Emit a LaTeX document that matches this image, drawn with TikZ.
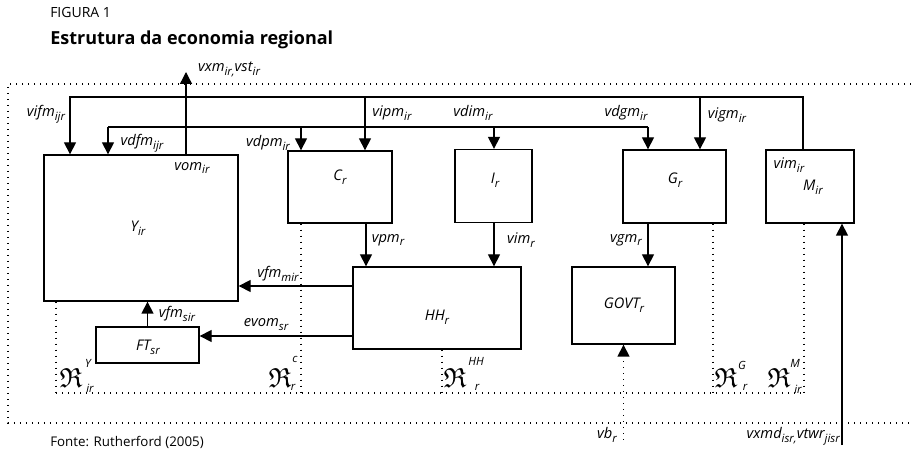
\documentclass[tikz,border=0pt]{standalone}
\usepackage{amsmath,amssymb}
\usepackage{fontspec}
\setmainfont{Open Sans}
\usetikzlibrary{arrows.meta}
\newcommand\lb[2]{\textit{#1}\raisebox{-0.5ex}{\fontsize{8.5}{9}\selectfont\textit{#2}}}
\newcommand\frakR{{\fontsize{20.74}{22}\selectfont$\mathfrak{R}$}}
\tikzset{
  box/.style={draw, line width=1pt, inner sep=0pt},
  ln/.style={line width=1pt},
  arr/.style={line width=1pt, -{Triangle[width=9pt,length=9pt]}},
  dots/.style={line width=1pt, dash pattern=on 0.9pt off 3.6pt},
  lbl/.style={inner sep=0pt, font=\fontsize{11}{13}\selectfont\itshape},
  sml/.style={inner sep=0pt, font=\fontsize{8.5}{9}\selectfont\itshape},
}
\begin{document}
\begin{tikzpicture}[x=0.75pt, y=-0.75pt]
\useasboundingbox (0,0) rectangle (911,452);
% titles
\node[anchor=west, inner sep=0pt, font=\fontsize{10.5}{12}\selectfont] (fig) at (50,13) {FIGURA 1};
\node[anchor=west, inner sep=0pt, font=\fontsize{13.5}{16}\selectfont\bfseries] (tit) at (50,40) {Estrutura da economia regional};
\node[anchor=north west, inner sep=0pt, font=\fontsize{10}{12}\selectfont] (src) at (50,436) {Fonte: Rutherford (2005)};
% outer dotted frame
\coordinate (o1) at (8,84);
\coordinate (o2) at (911,84);
\coordinate (o3) at (8,423);
\coordinate (o4) at (911,423);
\draw[dots] (o2) -- (o1) -- (o3) -- (o4);
% boxes
\node[box, minimum width=145.5pt, minimum height=109.5pt] (Y) at (141,228) {};
\node[box, minimum width=78pt, minimum height=54pt] (C) at (340,187) {};
\node[box, minimum width=57.75pt, minimum height=54.75pt] (I) at (493.5,186) {};
\node[box, minimum width=77.25pt, minimum height=54.75pt] (G) at (674.5,186.5) {};
\node[box, minimum width=66pt, minimum height=54.75pt] (M) at (810,186.5) {};
\node[box, minimum width=126pt, minimum height=61.5pt] (HH) at (437,308) {};
\node[box, minimum width=77.25pt, minimum height=57.75pt] (GOVT) at (623.5,305.5) {};
\node[box, minimum width=77.25pt, minimum height=27pt] (FT) at (147.5,345) {};
% box labels
\node[lbl] (lY) at (138,228) {\lb{Y}{ir}};
\node[lbl] (lC) at (340,177) {\lb{C}{r}};
\node[lbl] (lI) at (495,180) {\lb{I}{r}};
\node[lbl] (lG) at (675,180) {\lb{G}{r}};
\node[lbl] (lM) at (813,187) {\lb{M}{ir}};
\node[lbl] (lHH) at (437,317) {\lb{HH}{r}};
\node[lbl] (lGOVT) at (624,305) {\lb{GOVT}{r}};
\node[lbl] (lFT) at (148,347) {\lb{FT}{sr}};
% top bus
\coordinate (t1) at (70,97);
\coordinate (t2) at (803,97);
\draw[arr] (t2 |- M.north) -- (t2) -- (t1) -- (t1 |- Y.north);
\coordinate (vp) at (365,97);
\draw[arr] (vp) -- (vp |- C.north);
\coordinate (vg) at (700,97);
\draw[arr] (vg) -- (vg |- G.north);
% second bus
\coordinate (b1) at (108,127);
\coordinate (b2) at (301,127);
\coordinate (b3) at (494,127);
\coordinate (b4) at (648,127);
\draw[ln] (b1) -- (b4);
\draw[arr] (b1) -- (b1 |- Y.north);
\draw[arr] (b2) -- (b2 |- C.north);
\draw[arr] (b3) -- (b3 |- I.north);
\draw[arr] (b4) -- (b4 |- G.north);
% exports
\coordinate (vx) at (186,72);
\draw[arr] (vx |- Y.north) -- (vx);
% flows to HH, GOVT
\coordinate (xc) at (366,0);
\draw[arr] (C.south -| xc) -- (HH.north -| xc);
\coordinate (xi) at (494,0);
\draw[arr] (I.south -| xi) -- (HH.north -| xi);
\coordinate (xg) at (648,0);
\draw[arr] (G.south -| xg) -- (GOVT.north -| xg);
% HH to Y and FT
\coordinate (yf) at (0,286);
\draw[arr] (HH.west |- yf) -- (Y.east |- yf);
\coordinate (ye) at (0,336);
\draw[arr] (HH.west |- ye) -- (FT.east |- ye);
\draw[arr] (FT.north) -- (FT.north |- Y.south);
% vb and vxmd
\coordinate (vb) at (623.5,440);
\draw[dots, -{Triangle[width=9pt,length=9pt]}] (vb) -- (GOVT.south);
\coordinate (vm) at (842,445);
\draw[arr] (vm) -- (vm |- M.south);
% inner dotted region
\coordinate (d1) at (56,393);
\coordinate (d2) at (301,393);
\coordinate (d3) at (442,393);
\coordinate (d4) at (713,393);
\coordinate (d5) at (804,393);
\draw[dots] (d1) -- (d5);
\draw[dots] (Y.south -| d1) -- (d1);
\draw[dots] (C.south -| d2) -- (d2);
\draw[dots] (HH.south -| d3) -- (d3);
\draw[dots] (G.south -| d4) -- (d4);
\draw[dots] (M.south -| d5) -- (d5);
% connector labels
\node[lbl] (n1) at (229,69) {\lb{vxm}{ir,}\lb{vst}{ir}};
\node[lbl] (n2) at (46,114) {\lb{vifm}{ijr}};
\node[lbl] (n3) at (142,143) {\lb{vdfm}{ijr}};
\node[lbl] (n4) at (268,143) {\lb{vdpm}{ir}};
\node[lbl] (n5) at (392,113) {\lb{vipm}{ir}};
\node[lbl] (n6) at (473,113) {\lb{vdim}{ir}};
\node[lbl] (n7) at (626,113) {\lb{vdgm}{ir}};
\node[lbl] (n8) at (727,115) {\lb{vigm}{ir}};
\node[lbl] (n9) at (789,165) {\lb{vim}{ir}};
\node[lbl] (n10) at (192,168) {\lb{vom}{ir}};
\node[lbl] (n11) at (388,240) {\lb{vpm}{r}};
\node[lbl] (n12) at (521,240) {\lb{vim}{r}};
\node[lbl] (n13) at (626,240) {\lb{vgm}{r}};
\node[lbl] (n14) at (278,274) {\lb{vfm}{mir}};
\node[lbl] (n15) at (177,314) {\lb{vfm}{sir}};
\node[lbl] (n16) at (266,325) {\lb{evom}{sr}};
\node[lbl] (n17) at (607,435) {\lb{vb}{r}};
\node[lbl, anchor=east] (n18) at (840,436) {\lb{vxmd}{isr,}\lb{vtwr}{jisr}};
% Fraktur R labels
\node[inner sep=0pt] (r1) at (71,378) {\frakR};
\node[sml] at (88,363) {Y};
\node[sml] at (90,388) {ir};
\node[inner sep=0pt] (r2) at (280,378) {\frakR};
\node[sml] at (295,359) {c};
\node[sml] at (293,387) {r};
\node[inner sep=0pt] (r3) at (455,378) {\frakR};
\node[sml] at (476,361) {HH};
\node[sml] at (477,387) {r};
\node[inner sep=0pt] (r4) at (726,378) {\frakR};
\node[sml] at (742,365) {G};
\node[sml] at (745,387) {r};
\node[inner sep=0pt] (r5) at (779,378) {\frakR};
\node[sml] at (795,363) {M};
\node[sml] at (798,389) {ir};
\end{tikzpicture}
\end{document}
